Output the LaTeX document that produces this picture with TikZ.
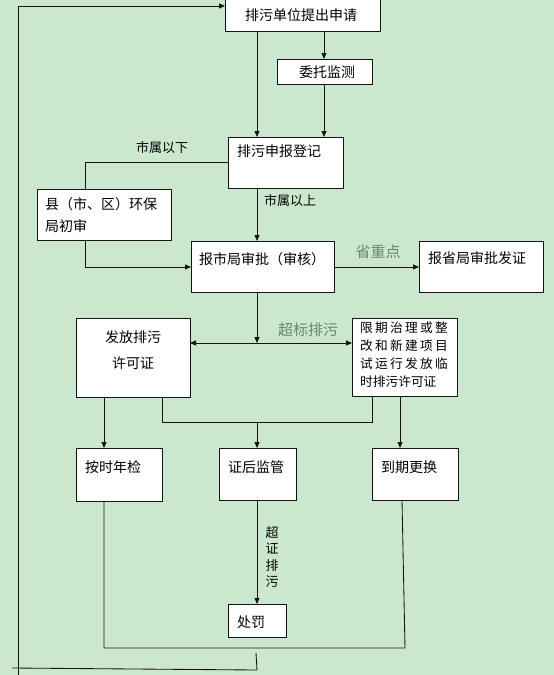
\documentclass[tikz,border=0pt]{standalone}
\usepackage{fontspec}
\setmainfont{Noto Sans CJK SC}
\usetikzlibrary{arrows.meta}
\definecolor{bg}{RGB}{203,231,205}
\definecolor{ln}{RGB}{20,20,20}
\definecolor{lbl}{RGB}{105,135,105}
\newcommand\kk{\kern2.3pt}
\begin{document}
\begin{tikzpicture}[x=1pt,y=-1pt,
  box/.style={draw=ln, fill=white, line width=0.8pt, inner sep=0pt, outer sep=0pt, anchor=north west},
  txt/.style={inner sep=0pt, anchor=west, font=\fontsize{14}{17}\selectfont, text=black},
  lab/.style={inner sep=0pt, font=\fontsize{13}{16}\selectfont, text=black},
  glab/.style={inner sep=0pt, font=\fontsize{15}{18}\selectfont, text=lbl},
  conn/.style={draw=ln, line width=0.85pt},
  arr/.style={conn, -{Triangle[length=6pt,width=5pt]}},
  darr/.style={conn, {Triangle[length=6pt,width=5pt]}-{Triangle[length=6pt,width=5pt]}}]
\fill[bg] (0,0) rectangle (554,675);
\useasboundingbox (0,0) rectangle (554,675);

% boxes
\node[box, minimum width=155pt, minimum height=33pt] (A) at (225,-2) {};
\node[box, minimum width=95pt, minimum height=25pt] (B) at (277,59) {};
\node[box, minimum width=115pt, minimum height=51pt] (C) at (228,137) {};
\node[box, minimum width=134pt, minimum height=51pt] (D) at (37,189) {};
\node[box, minimum width=143pt, minimum height=51pt] (E) at (191,241) {};
\node[box, minimum width=124pt, minimum height=51pt] (F) at (419,241) {};
\node[box, minimum width=114pt, minimum height=79pt] (G) at (76,318) {};
\node[box, minimum width=105pt, minimum height=78pt] (H) at (352,318) {};
\node[box, minimum width=86pt, minimum height=53pt] (I) at (76,448) {};
\node[box, minimum width=77pt, minimum height=52pt] (J) at (219,448) {};
\node[box, minimum width=86pt, minimum height=52pt] (K) at (372,448) {};
\node[box, minimum width=58pt, minimum height=33pt] (L) at (228,604) {};

% texts
\node[txt] (tA) at (245,15) {排污单位提出申请};
\node[txt] (tB) at (299,72) {委托监测};
\node[txt] (tC) at (237,151) {排污申报登记};
\node[txt, anchor=north west, align=left, font=\fontsize{14}{22}\selectfont] (tD) at (45,197) {县（市、区）环保\\局初审};
\node[txt] (tE) at (199,259) {报市局审批（审核）};
\node[txt] (tF) at (428,258) {报省局审批发证};
\node[txt, anchor=north, align=center, font=\fontsize{14}{26}\selectfont] (tG) at (133,330) {发放排污\\许可证};
\node[txt, anchor=north west, align=left, font=\fontsize{12.7}{18}\selectfont] (tH) at (360,322)
  {限\kk 期\kk 治\kk 理\kk 或\kk 整\\改\kk 和\kk 新\kk 建\kk 项\kk 目\\试\kk 运\kk 行\kk 发\kk 放\kk 临\\时排污许可证};
\node[txt] (tI) at (85,467) {按时年检};
\node[txt] (tJ) at (228,467) {证后监管};
\node[txt] (tK) at (381,467) {到期更换};
\node[txt] (tL) at (237,622) {处罚};

% labels
\node[lab] (l1) at (162,148) {市属以下};
\node[lab] (l2) at (290,201) {市属以上};
\node[glab] (l3) at (378,252) {省重点};
\node[glab] (l4) at (308,330) {超标排污};
\node[lab, align=center, font=\fontsize{13}{16.5}\selectfont] (l5) at (272,557) {超\\证\\排\\污};

% helper coordinates
\coordinate (x85) at (85,0);
\coordinate (x104) at (104,0);
\coordinate (x162) at (162,0);
\coordinate (x257) at (257,0);
\coordinate (x324) at (324,0);
\coordinate (x372) at (372,0);
\coordinate (x400) at (400,0);
\coordinate (y6) at (0,6);
\coordinate (y162) at (0,162);
\coordinate (y267) at (0,267);
\coordinate (y343) at (0,343);
\coordinate (y422) at (0,422);

% outer loop
\coordinate (lb) at (18,675);
\coordinate (lt) at (18,6);
\draw[arr] (lb) -- (lt) -- (A.west |- y6);
\coordinate (bl) at (12,668);
\coordinate (br) at (257,670);
\coordinate (bt) at (256,653);
\draw[conn] (bl) -- (br) -- (bt);

% top
\draw[arr] (A.south -| x257) -- (C.north -| x257);
\draw[arr] (A.south -| x324) -- (B.north -| x324);
\draw[arr] (B.south -| x324) -- (C.north -| x324);

% county branch
\coordinate (cd) at (85,162);
\draw[conn] (C.west |- y162) -- (cd) -- (D.north -| x85);
\coordinate (de) at (85,267);
\draw[arr] (D.south -| x85) -- (de) -- (E.west |- y267);
\draw[arr] (C.south -| x257) -- (E.north -| x257);
\draw[arr] (E.east |- y267) -- (F.west |- y267);

% middle
\coordinate (em) at (257,343);
\draw[arr] (E.south -| x257) -- (em);
\draw[darr] (G.east |- y343) -- (H.west |- y343);

% lower
\draw[arr] (G.south -| x104) -- (I.north -| x104);
\coordinate (g1) at (162,422);
\coordinate (h1) at (372,422);
\draw[conn] (G.south -| x162) -- (g1) -- (h1) -- (H.south -| x372);
\draw[arr] (x257 |- y422) -- (J.north -| x257);
\draw[arr] (H.south -| x400) -- (K.north -| x400);
\draw[arr] (J.south -| x257) -- (L.north -| x257);

% bottom return
\coordinate (i1) at (104,648);
\coordinate (k1) at (405,648);
\coordinate (k0) at (402,500);
\draw[conn] (I.south -| x104) -- (i1) -- (k1) -- (k0);
\end{tikzpicture}
\end{document}
